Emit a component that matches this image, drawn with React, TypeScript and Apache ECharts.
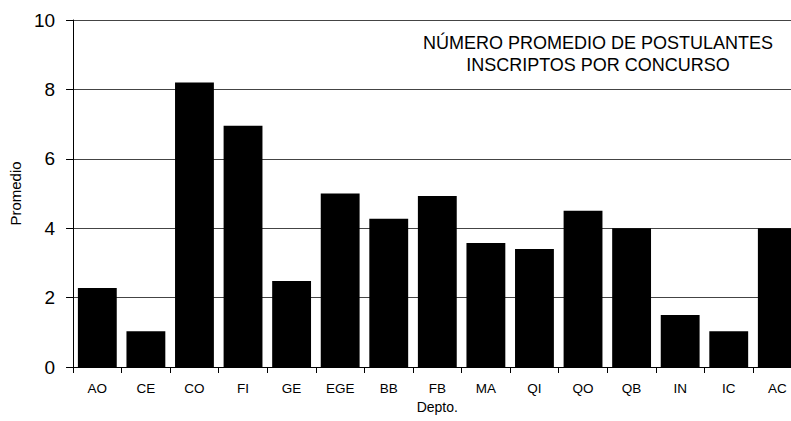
import React, { useEffect, useRef } from "react";
import * as echarts from "echarts";

const categories = ["AO", "CE", "CO", "FI", "GE", "EGE", "BB", "FB", "MA", "QI", "QO", "QB", "IN", "IC", "AC"];
const values = [2.28, 1.03, 8.2, 6.95, 2.48, 5.0, 4.27, 4.93, 3.57, 3.4, 4.5, 4.0, 1.5, 1.03, 4.0];
const yTicks = { min: 0, max: 10, interval: 2 };
const titleLines = ["NÚMERO PROMEDIO DE POSTULANTES", "INSCRIPTOS POR CONCURSO"];
const yName = "Promedio";
const xName = "Depto.";

const FONT = "'Liberation Sans', Arial, sans-serif";

export default function App() {
  const ref = useRef<HTMLDivElement>(null);
  useEffect(() => {
    if (!ref.current) return;
    const chart = echarts.init(ref.current, null, { renderer: "svg" });
    chart.setOption({
      animation: false,
      backgroundColor: "#ffffff",
      textStyle: { fontFamily: FONT },
      grid: { left: 73, top: 20, bottom: 54, right: 18.4, containLabel: false },
      graphic: [
        {
          type: "text",
          x: 598,
          y: 54,
          style: {
            text: titleLines.join("\n"),
            fontFamily: FONT,
            fontSize: 18,
            lineHeight: 22,
            fill: "#000",
            align: "center",
            verticalAlign: "middle",
          },
        },
      ],
      xAxis: {
        type: "category",
        data: categories,
        name: xName,
        nameLocation: "middle",
        nameGap: 27,
        nameTextStyle: { fontFamily: FONT, fontSize: 14, color: "#000" },
        axisLine: { show: true, lineStyle: { color: "#000", width: 1 } },
        axisTick: { show: true, length: 6, lineStyle: { color: "#000" } },
        axisLabel: { fontFamily: FONT, fontSize: 13.5, color: "#000", margin: 14, interval: 0 },
        splitLine: { show: false },
      },
      yAxis: {
        type: "value",
        min: yTicks.min,
        max: yTicks.max,
        interval: yTicks.interval,
        name: yName,
        nameLocation: "middle",
        nameGap: 48,
        nameRotate: 90,
        nameTextStyle: { fontFamily: FONT, fontSize: 15, color: "#000" },
        axisLine: { show: true, lineStyle: { color: "#000", width: 1 } },
        axisTick: { show: true, length: 7, lineStyle: { color: "#000" } },
        axisLabel: { fontFamily: FONT, fontSize: 19, color: "#000", margin: 18 },
        splitLine: { show: true, lineStyle: { color: "#444", width: 1 } },
      },
      series: [
        {
          type: "bar",
          data: values,
          barCategoryGap: "20%",
          itemStyle: { color: "#000" },
        },
      ],
    });
    return () => chart.dispose();
  }, []);
  return (
    <div style={{ position: "absolute", left: 0, top: 0, width: 791, height: 421, overflow: "hidden", background: "#fff" }}>
      <div ref={ref} style={{ width: 820, height: 421 }} />
    </div>
  );
}
